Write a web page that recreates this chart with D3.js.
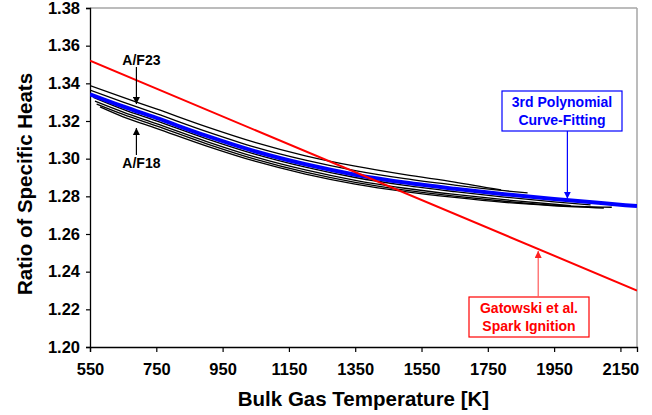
<!DOCTYPE html>
<html>
<head>
<meta charset="utf-8">
<script src="https://cdn.jsdelivr.net/npm/d3@7"></script>
<style>
  html, body { margin: 0; padding: 0; background: #fff; }
  svg { display: block; font-family: "Liberation Sans", Arial, sans-serif; }
</style>
</head>
<body>
<svg id="chart" width="652" height="415"></svg>
<script>
// Ratio of specific heats vs bulk gas temperature
const xTicks = [550, 750, 950, 1150, 1350, 1550, 1750, 1950, 2150];
const yTicks = [1.20, 1.22, 1.24, 1.26, 1.28, 1.30, 1.32, 1.34, 1.36, 1.38];

// 3rd order polynomial fit (blue)
const fitT     = [550, 650, 750, 900, 1050, 1200, 1350, 1500, 1650, 1800, 1950, 2100, 2200];
const fitGamma = [1.3342, 1.3277, 1.3216, 1.3122, 1.3038, 1.2970, 1.2915, 1.2873, 1.2840, 1.2811, 1.2786, 1.2763, 1.2748];

// Gatowski et al. spark ignition correlation (red)
const gatT     = [550, 2200];
const gatGamma = [1.352, 1.230];

// Computed curves for air/fuel ratios (black)
const afCurves = [
  { name: "A/F23",
    T: [550, 650, 750, 900, 1050, 1200, 1350, 1500, 1650, 1790],
    g: [1.3388, 1.3325, 1.3264, 1.3170, 1.3085, 1.3015, 1.2960, 1.2915, 1.2876, 1.2834] },
  { name: "A/F22",
    T: [550, 650, 750, 900, 1050, 1200, 1350, 1500, 1650, 1800, 1870],
    g: [1.3364, 1.3300, 1.3239, 1.3145, 1.3060, 1.2992, 1.2937, 1.2894, 1.2860, 1.2830, 1.2818] },
  { name: "A/F21",
    T: [560, 650, 750, 900, 1050, 1200, 1350, 1500, 1650, 1800, 1950, 2060],
    g: [1.3326, 1.3262, 1.3201, 1.3107, 1.3023, 1.2955, 1.2900, 1.2858, 1.2825, 1.2796, 1.2771, 1.2755] },
  { name: "A/F20",
    T: [565, 650, 750, 900, 1050, 1200, 1350, 1500, 1650, 1800, 1950, 2000],
    g: [1.3305, 1.3247, 1.3186, 1.3092, 1.3008, 1.2940, 1.2885, 1.2843, 1.2810, 1.2782, 1.2758, 1.2751] },
  { name: "A/F19",
    T: [570, 650, 750, 900, 1050, 1200, 1350, 1500, 1650, 1800, 1950, 2124],
    g: [1.3290, 1.3235, 1.3174, 1.3080, 1.2996, 1.2928, 1.2874, 1.2833, 1.2801, 1.2774, 1.2752, 1.2742] },
  { name: "A/F18",
    T: [580, 650, 750, 900, 1050, 1200, 1350, 1500, 1650, 1800, 1950, 2100],
    g: [1.3275, 1.3222, 1.3161, 1.3068, 1.2985, 1.2918, 1.2865, 1.2825, 1.2794, 1.2768, 1.2750, 1.2738] }
];

const svg = d3.select("#chart");
const margin = { left: 90, right: 15, top: 8, bottom: 68 };
const W = 652, H = 415;

const x = d3.scaleLinear().domain([550, 2200]).range([margin.left, W - margin.right]);
const y = d3.scaleLinear().domain([1.20, 1.38]).range([H - margin.bottom, margin.top]);

svg.append("defs").append("clipPath").attr("id", "plotClip")
  .append("rect")
  .attr("x", x.range()[0]).attr("y", y.range()[1])
  .attr("width", x.range()[1] - x.range()[0])
  .attr("height", y.range()[0] - y.range()[1]);

const defs = svg.select("defs");
function marker(id, color) {
  defs.append("marker")
    .attr("id", id).attr("viewBox", "0 0 10 10")
    .attr("refX", 10).attr("refY", 5)
    .attr("markerWidth", 7).attr("markerHeight", 7)
    .attr("markerUnits", "userSpaceOnUse")
    .attr("orient", "auto")
    .append("path").attr("d", "M0,0 L10,5 L0,10 Z").attr("fill", color);
}
marker("arrBlack", "#000");
marker("arrBlue", "#0000ff");
marker("arrRed", "#ff2020");

// plot frame: grey top/right edges
svg.append("line")
  .attr("x1", x.range()[0]).attr("x2", x.range()[1])
  .attr("y1", y.range()[1]).attr("y2", y.range()[1])
  .attr("stroke", "#a6a6a6").attr("stroke-width", 1.5);
svg.append("line")
  .attr("x1", x.range()[1]).attr("x2", x.range()[1])
  .attr("y1", y.range()[1]).attr("y2", y.range()[0])
  .attr("stroke", "#a6a6a6").attr("stroke-width", 1.5);

// axes
const xAxis = d3.axisBottom(x).tickValues(xTicks).tickSize(5).tickPadding(11)
  .tickFormat(d3.format("d"));
const yAxis = d3.axisLeft(y).tickValues(yTicks).tickSize(4).tickPadding(6)
  .tickFormat(d3.format(".2f"));

const gx = svg.append("g").attr("transform", `translate(0,${y.range()[0]})`).call(xAxis);
const gy = svg.append("g").attr("transform", `translate(${x.range()[0]},0)`).call(yAxis);
[gx, gy].forEach(g => {
  g.select(".domain").attr("stroke", "#000").attr("stroke-width", 1.3);
  g.selectAll(".tick line").attr("stroke", "#000").attr("stroke-width", 1.2);
  g.selectAll(".tick text")
    .attr("fill", "#000")
    .style("font-family", "'Liberation Sans', Arial, sans-serif")
    .style("font-size", "16.5px").style("font-weight", "bold");
});

// axis titles
svg.append("text")
  .attr("x", (x.range()[0] + x.range()[1]) / 2).attr("y", 406)
  .attr("text-anchor", "middle")
  .style("font-size", "20.5px").style("font-weight", "bold")
  .text("Bulk Gas Temperature [K]");
svg.append("text")
  .attr("transform", `translate(32,184) rotate(-90)`)
  .attr("text-anchor", "middle")
  .style("font-size", "20.5px").style("font-weight", "bold")
  .text("Ratio of Specific Heats");

// curves
const plot = svg.append("g").attr("clip-path", "url(#plotClip)");
const line = d3.line().x(d => x(d[0])).y(d => y(d[1])).curve(d3.curveMonotoneX);

afCurves.forEach(c => {
  plot.append("path")
    .datum(c.T.map((t, i) => [t, c.g[i]]))
    .attr("fill", "none").attr("stroke", "#000").attr("stroke-width", 1.3)
    .attr("d", line);
});

plot.append("path")
  .datum(fitT.map((t, i) => [t, fitGamma[i]]))
  .attr("fill", "none").attr("stroke", "#0000ff").attr("stroke-width", 4)
  .attr("d", line);

plot.append("path")
  .datum(gatT.map((t, i) => [t, gatGamma[i]]))
  .attr("fill", "none").attr("stroke", "#ff0000").attr("stroke-width", 2)
  .attr("d", d3.line().x(d => x(d[0])).y(d => y(d[1])));

// A/F labels with arrows
const afArrowT = 690;
svg.append("text").attr("x", x(afArrowT) + 5).attr("y", 65)
  .attr("text-anchor", "middle")
  .style("font-size", "14px").style("font-weight", "bold").text("A/F23");
svg.append("line")
  .attr("x1", x(afArrowT)).attr("x2", x(afArrowT))
  .attr("y1", 67).attr("y2", y(1.3290))
  .attr("stroke", "#000").attr("stroke-width", 1.2).attr("marker-end", "url(#arrBlack)");

svg.append("text").attr("x", x(afArrowT) + 5).attr("y", 168)
  .attr("text-anchor", "middle")
  .style("font-size", "14px").style("font-weight", "bold").text("A/F18");
svg.append("line")
  .attr("x1", x(afArrowT)).attr("x2", x(afArrowT))
  .attr("y1", 155).attr("y2", y(1.3163))
  .attr("stroke", "#000").attr("stroke-width", 1.2).attr("marker-end", "url(#arrBlack)");

// callout boxes
function callout(lines, color, lineColor, bx, by, bw, bh, arrowT, arrowY0, arrowY1, marker) {
  svg.append("rect").attr("x", bx).attr("y", by).attr("width", bw).attr("height", bh)
    .attr("fill", "#fff").attr("stroke", color).attr("stroke-width", 1.2);
  lines.forEach((s, i) => {
    svg.append("text").attr("x", bx + bw / 2).attr("y", by + 16 + i * 17.5)
      .attr("text-anchor", "middle").attr("fill", color)
      .style("font-size", "14px").style("font-weight", "bold").text(s);
  });
  svg.append("line")
    .attr("x1", x(arrowT)).attr("x2", x(arrowT))
    .attr("y1", arrowY0).attr("y2", arrowY1)
    .attr("stroke", lineColor).attr("stroke-width", 1.2).attr("marker-end", `url(#${marker})`);
}

const fitArrowT = 1990;
callout(["3rd Polynomial", "Curve-Fitting"], "#0000ff", "#0000ff", 502, 91, 120, 40,
  fitArrowT, 131, y(1.2782) - 1, "arrBlue");

const gatArrowT = 1902;
callout(["Gatowski et al.", "Spark Ignition"], "#ff0000", "#ff5a5a", 469, 297, 120, 40,
  gatArrowT, 297, y(1.2521) + 2, "arrRed");
</script>
</body>
</html>
